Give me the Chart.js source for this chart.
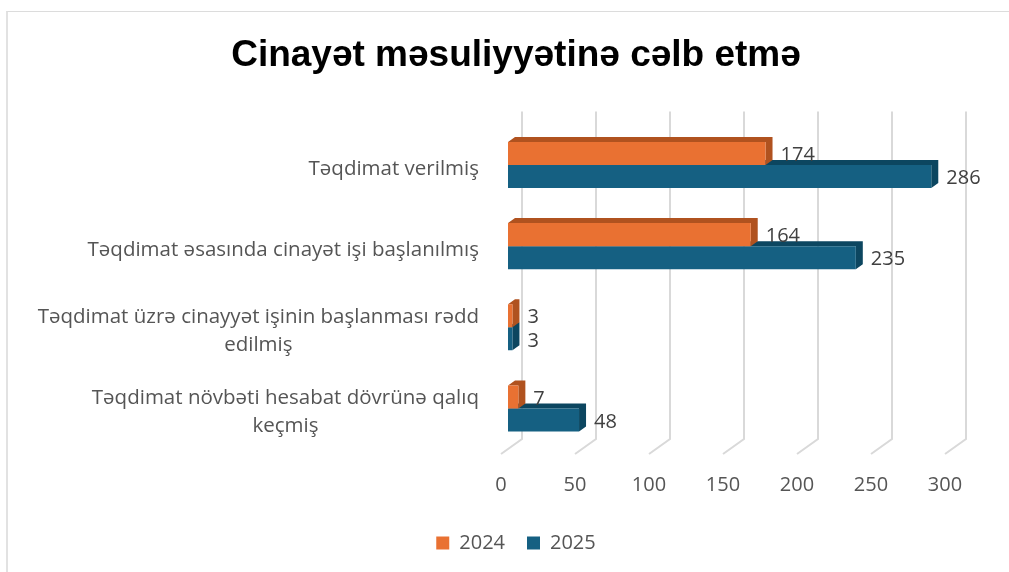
<!DOCTYPE html>
<html>
<head>
<meta charset="utf-8">
<script src="https://cdn.jsdelivr.net/npm/chart.js@4.4.1/dist/chart.umd.min.js"></script>
<style>
  html, body { margin: 0; padding: 0; background: #fff; }
  #wrap { position: relative; width: 1009px; height: 572px; overflow: hidden; }
  #frame {
    position: absolute; left: 6px; top: 11px; right: -2px; bottom: -2px;
    border-left: 2px solid #e2e2e2; border-top: 1px solid #dcdcdc;
    pointer-events: none;
  }
  canvas { position: absolute; left: 0; top: 0; }
</style>
</head>
<body>
<div id="wrap">
  <canvas id="chart" width="1009" height="572"></canvas>
  <div id="frame"></div>
</div>
<script>
// chart data
const categories = [
  ["Təqdimat verilmiş"],
  ["Təqdimat əsasında cinayət işi başlanılmış"],
  ["Təqdimat üzrə cinayyət işinin başlanması rədd", "edilmiş"],
  ["Təqdimat növbəti hesabat dövrünə qalıq", "keçmiş"]
];
const values2024 = [174, 164, 3, 7];
const values2025 = [286, 235, 3, 48];
const seriesNames = ["2024", "2025"];
const xTicks = [0, 50, 100, 150, 200, 250, 300];

const frontColors = ["#E97132", "#156082"];
const sideColors = ["#B0521F", "#0C4660"];
const textGray = "#555555";
const labelFont = "'Open Sans', sans-serif";

// depth of the 3d box: bars sit in the middle third
const DX = 7, DY = -5;

const grid3d = {
  id: "grid3d",
  beforeDatasetsDraw(chart) {
    const ctx = chart.ctx;
    const xs = chart.scales.x;
    const area = chart.chartArea;
    ctx.save();
    ctx.strokeStyle = "#d9d9d9";
    ctx.lineWidth = 2;
    xTicks.forEach(v => {
      const px = xs.getPixelForValue(v);
      const bx = px + 2 * DX, top = area.top + 2 * DY - 3, bot = area.bottom + 2 * DY;
      ctx.beginPath();
      ctx.moveTo(bx, top);
      ctx.lineTo(bx, bot);
      ctx.lineTo(px - DX, area.bottom - DY);
      ctx.stroke();
    });
    ctx.restore();

    // side and top faces of the bars, back series first
    for (let d = chart.data.datasets.length - 1; d >= 0; d--) {
      const meta = chart.getDatasetMeta(d);
      meta.data.forEach(bar => {
        const p = bar.getProps(["x", "y", "base", "height"], true);
        const t = p.y - p.height / 2, b = p.y + p.height / 2;
        ctx.save();
        ctx.fillStyle = sideColors[d];
        ctx.beginPath();
        ctx.moveTo(p.base, t);
        ctx.lineTo(p.base + DX, t + DY);
        ctx.lineTo(p.x + DX, t + DY);
        ctx.lineTo(p.x + DX, b + DY);
        ctx.lineTo(p.x, b);
        ctx.lineTo(p.x, t);
        ctx.closePath();
        ctx.fill();
        ctx.restore();
      });
    }
  },
  afterDatasetsDraw(chart) {
    const ctx = chart.ctx;
    ctx.save();
    ctx.font = "20px " + labelFont;
    ctx.fillStyle = "#404040";
    ctx.textBaseline = "middle";
    ctx.textAlign = "left";
    chart.data.datasets.forEach((ds, d) => {
      chart.getDatasetMeta(d).data.forEach((bar, i) => {
        ctx.fillText(String(ds.data[i]), bar.x + DX + 8, bar.y + 2);
      });
    });

    // category labels: block right-aligned, lines centred inside it
    const ys = chart.scales.y;
    const right = chart.chartArea.left - 29;
    ctx.font = "20.5px " + labelFont;
    ctx.fillStyle = textGray;
    ctx.textAlign = "center";
    const lh = 28;
    categories.forEach((lines, i) => {
      const cy = ys.getPixelForValue(i) + 4;
      const w = Math.max(...lines.map(l => ctx.measureText(l).width));
      const cx = right - w / 2;
      const y0 = cy - (lines.length - 1) * lh / 2;
      lines.forEach((l, k) => ctx.fillText(l, cx, y0 + k * lh));
    });
    ctx.restore();
  }
};

new Chart(document.getElementById("chart"), {
  type: "bar",
  data: {
    labels: categories.map(c => c.join(" ")),
    datasets: [
      { label: seriesNames[0], data: values2024, backgroundColor: frontColors[0] },
      { label: seriesNames[1], data: values2025, backgroundColor: frontColors[1] }
    ]
  },
  options: {
    indexAxis: "y",
    responsive: false,
    animation: false,
    events: [],
    categoryPercentage: 0.568,
    barPercentage: 1,
    layout: { padding: { left: 80, right: 57, top: 0, bottom: 9 } },
    scales: {
      x: {
        min: 0,
        max: 300,
        grid: { display: false, drawTicks: false },
        border: { display: false },
        ticks: {
          stepSize: 50,
          labelOffset: -7,
          padding: 24,
          color: textGray,
          font: { family: labelFont, size: 20 }
        },
        afterFit(axis) { axis.height = 62; }
      },
      y: {
        grid: { display: false, drawTicks: false },
        border: { display: false },
        ticks: { display: false },
        afterFit(axis) { axis.width = 428; }
      }
    },
    plugins: {
      title: {
        display: true,
        text: "Cinayət məsuliyyətinə cəlb etmə",
        color: "#000",
        font: { family: "'Liberation Sans', Arial, sans-serif", size: 37, weight: "bold" },
        padding: { top: 34, bottom: 46 }
      },
      legend: {
        position: "bottom",
        labels: {
          boxWidth: 13,
          boxHeight: 13,
          padding: 22,
          color: textGray,
          font: { family: labelFont, size: 20 }
        }
      },
      tooltip: { enabled: false }
    }
  },
  plugins: [grid3d]
});
</script>
</body>
</html>
